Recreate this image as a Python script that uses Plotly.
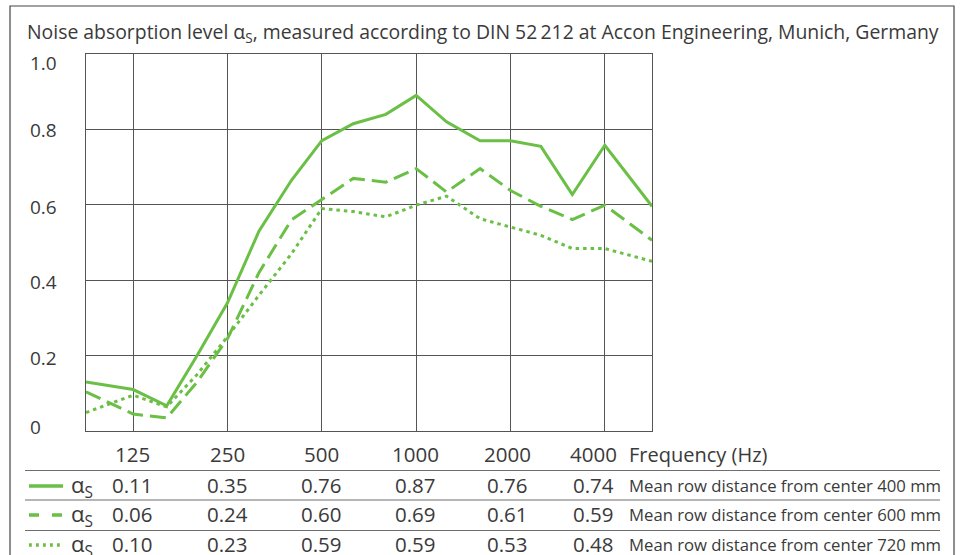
import plotly.graph_objects as go

# third-octave readings; the first/last entries sit on the plot edges
freq_hz = [88.4, 125, 160, 200, 250, 315, 400, 500, 630, 800, 1000,
           1250, 1600, 2000, 2500, 3150, 4000, 5657]
alpha_400 = [0.13, 0.11, 0.067, 0.20, 0.34, 0.53, 0.665, 0.77, 0.815, 0.84, 0.89,
             0.82, 0.77, 0.77, 0.755, 0.627, 0.758, 0.596]
alpha_600 = [0.104, 0.045, 0.035, 0.13, 0.245, 0.42, 0.56, 0.615, 0.67, 0.66, 0.696,
             0.634, 0.696, 0.638, 0.596, 0.561, 0.599, 0.506]
alpha_720 = [0.049, 0.095, 0.064, 0.15, 0.25, 0.36, 0.47, 0.59, 0.582, 0.568, 0.599,
             0.623, 0.563, 0.541, 0.519, 0.484, 0.484, 0.45]

# octave-band table
bands = [125, 250, 500, 1000, 2000, 4000]
table_400 = ["0.11", "0.35", "0.76", "0.87", "0.76", "0.74"]
table_600 = ["0.06", "0.24", "0.60", "0.69", "0.61", "0.59"]
table_720 = ["0.10", "0.23", "0.59", "0.59", "0.53", "0.48"]
row_notes = ["Mean row distance from center 400 mm",
             "Mean row distance from center 600 mm",
             "Mean row distance from center 720 mm"]

y_ticks = [0, 0.2, 0.4, 0.6, 0.8, 1.0]
y_ticktext = ["0", "0.2", "0.4", "0.6", "0.8", "1.0"]

GREEN = "#6abf45"
INK = "#3a3a3a"
GRID = "#555555"
FONT = "'Open Sans', Lato, sans-serif"

W, H = 960, 555
L, R, T, B = 86, 652, 54, 431


def px(x):
    return (x - L) / (R - L)


def py(y):
    return (B - y) / (B - T)


DASH = "16px,7px"
DOT = "3.5px,4px"

fig = go.Figure()
for vals, dash in [(alpha_400, "solid"), (alpha_600, DASH), (alpha_720, DOT)]:
    fig.add_trace(go.Scatter(
        x=freq_hz, y=vals, mode="lines",
        line=dict(color=GREEN, width=3, dash=dash),
        showlegend=False, hoverinfo="skip",
    ))

ann = []
# title
ann.append(dict(
    x=px(25), y=py(32), xref="paper", yref="paper", xanchor="left", yanchor="middle",
    text="Noise absorption level α<sub>S</sub>, measured according to DIN 52\u2009212 "
         "at Accon Engineering, Munich, Germany",
    font=dict(size=19.4, color=INK), showarrow=False,
))
# y tick labels, left aligned
y_shift = [4, -2, -2, -2, -1, -9]
for v, t, s in zip(y_ticks, y_ticktext, y_shift):
    ann.append(dict(x=px(28), y=v, xref="paper", yref="y", xanchor="left",
                    yanchor="middle", text=t, yshift=s, showarrow=False,
                    font=dict(size=19, color=INK)))

# table
col_x = [132.5, 227, 321, 415, 507, 593.5]
row_y = [485, 514, 544]
head_y = 454
for b, cx in zip(bands, col_x):
    ann.append(dict(x=px(cx), y=py(head_y), xref="paper", yref="paper",
                    xanchor="center", yanchor="middle", text=str(b),
                    showarrow=False, font=dict(size=20.5, color=INK)))
ann.append(dict(x=px(627), y=py(head_y), xref="paper", yref="paper",
                xanchor="left", yanchor="middle", text="Frequency (Hz)",
                showarrow=False, font=dict(size=20, color=INK)))

shapes = []
for vals, note, ry, dash in zip([table_400, table_600, table_720], row_notes,
                                row_y, ["solid", "10px,13px", "2.8px,4.2px"]):
    shapes.append(dict(type="line", xref="paper", yref="paper",
                       x0=px(29), x1=px(63), y0=py(ry + 1), y1=py(ry + 1),
                       line=dict(color=GREEN, width=3.5, dash=dash)))
    ann.append(dict(x=px(69), y=py(ry + 1), xref="paper", yref="paper",
                    xanchor="left", yanchor="middle", text="α<sub>S</sub>",
                    showarrow=False, font=dict(size=22, color=INK)))
    for v, cx in zip(vals, col_x):
        ann.append(dict(x=px(cx), y=py(ry), xref="paper", yref="paper",
                        xanchor="center", yanchor="middle", text=v,
                        showarrow=False, font=dict(size=20.5, color=INK)))
    ann.append(dict(x=px(627), y=py(ry), xref="paper", yref="paper",
                    xanchor="left", yanchor="middle", text=note,
                    showarrow=False, font=dict(size=16.7, color=INK)))

for ly in [470.5, 500, 530.5]:
    shapes.append(dict(type="line", xref="paper", yref="paper",
                       x0=px(25), x1=px(940), y0=py(ly), y1=py(ly),
                       line=dict(color="#6e6e6e", width=1.2)))

# outer frame
shapes.append(dict(type="rect", xref="paper", yref="paper",
                   x0=px(10), x1=px(954), y0=py(6), y1=py(570),
                   line=dict(color="#444444", width=1.2)))

fig.update_layout(
    width=W, height=H,
    margin=dict(l=L, r=W - R, t=T, b=H - B, pad=0),
    paper_bgcolor="white", plot_bgcolor="white",
    font=dict(family=FONT, color=INK),
    xaxis=dict(type="log", range=[1.94645, 3.75257],
               tickvals=bands, showticklabels=False, ticks="",
               showgrid=True, gridcolor=GRID, gridwidth=1,
               showline=True, mirror=True, linecolor=GRID, linewidth=1,
               zeroline=False, fixedrange=True),
    yaxis=dict(range=[0, 1], tickvals=y_ticks, showticklabels=False, ticks="",
               showgrid=True, gridcolor=GRID, gridwidth=1,
               showline=True, mirror=True, linecolor=GRID, linewidth=1,
               zeroline=False, fixedrange=True),
    annotations=ann, shapes=shapes,
    showlegend=False,
)

# drop the default page margin so the figure sits at the window corner
fig.write_html("out.html", config={"displayModeBar": False},
               post_script="document.body.style.margin='0';")
